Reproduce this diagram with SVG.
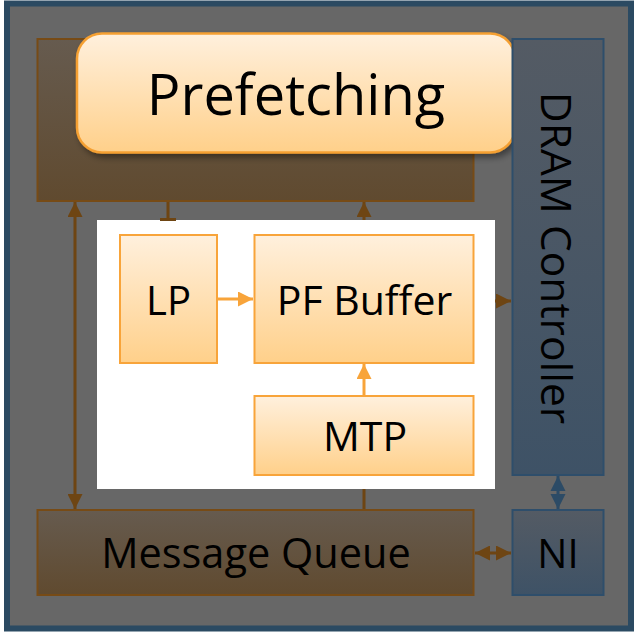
<svg xmlns="http://www.w3.org/2000/svg" width="637" height="632" viewBox="0 0 637 632">
  <defs>
    <linearGradient id="gOrange" x1="0" y1="0" x2="0" y2="1">
      <stop offset="0" stop-color="#fff0dd"/>
      <stop offset="1" stop-color="#ffd08a"/>
    </linearGradient>
    <linearGradient id="gBrown" x1="0" y1="0" x2="0" y2="1">
      <stop offset="0" stop-color="#665b4f"/>
      <stop offset="1" stop-color="#604a2f"/>
    </linearGradient>
    <linearGradient id="gBlue" x1="0" y1="0" x2="0" y2="1">
      <stop offset="0" stop-color="#545b64"/>
      <stop offset="1" stop-color="#3e5266"/>
    </linearGradient>
    <filter id="shadow" x="-10%" y="-10%" width="125%" height="135%">
      <feDropShadow dx="3" dy="4" stdDeviation="3" flood-color="#000" flood-opacity="0.4"/>
    </filter>
    <marker id="aBrown" viewBox="0 0 10 10" refX="10" refY="5" markerWidth="5" markerHeight="5" orient="auto-start-reverse" markerUnits="strokeWidth">
      <path d="M0,0 L10,5 L0,10 Z" fill="#6e4513"/>
    </marker>
    <marker id="aOrange" viewBox="0 0 10 10" refX="10" refY="5" markerWidth="5" markerHeight="5" orient="auto-start-reverse" markerUnits="strokeWidth">
      <path d="M0,0 L10,5 L0,10 Z" fill="#f8a43a"/>
    </marker>
    <marker id="aBlue" viewBox="0 0 10 10" refX="10" refY="5" markerWidth="5" markerHeight="5.3" orient="auto-start-reverse" markerUnits="strokeWidth">
      <path d="M0,0 L10,5 L0,10 Z" fill="#2c4b66"/>
    </marker>
  </defs>
  <style>
    text { font-family: "Open Sans", "Noto Sans", sans-serif; fill: #000; text-anchor: middle; }
    .brown { fill: url(#gBrown); stroke: #774b16; stroke-width: 2; }
    .blue { fill: url(#gBlue); stroke: #2e4e6b; stroke-width: 2; }
    .orange { fill: url(#gOrange); stroke: #f8a43a; stroke-width: 2; }
    .cb { stroke: #6e4513; stroke-width: 3; fill: none; }
    .co { stroke: #f8a43a; stroke-width: 3; fill: none; }
    .cl { stroke: #2c4b66; stroke-width: 3; fill: none; }
  </style>

  <!-- outer frame -->
  <rect x="7" y="3.5" width="624" height="625" fill="#676767" stroke="#2b4a62" stroke-width="6"/>

  <g id="prefetch-unit">
    <rect class="brown" x="37.5" y="39" width="436" height="162"/>
  </g>

  <g id="prefetching">
    <rect x="77" y="33.5" width="438" height="119" rx="25" ry="25" fill="url(#gOrange)" stroke="#f5a033" stroke-width="2.5" filter="url(#shadow)"/>
    <text x="296" y="115" font-size="56">Prefetching</text>
  </g>

  <g id="dram-controller">
    <rect class="blue" x="512.5" y="39" width="91" height="436"/>
    <text transform="translate(541 258) rotate(90)" font-size="42.5">DRAM Controller</text>
  </g>

  <g id="panel">
    <rect x="97" y="220" width="398" height="269" fill="#ffffff"/>
  </g>

  <g id="lp">
    <rect class="orange" x="120" y="235" width="97" height="128"/>
    <text x="168.5" y="315" font-size="40">LP</text>
  </g>

  <g id="pf-buffer">
    <rect class="orange" x="254.5" y="235" width="219" height="128"/>
    <text x="364.5" y="315" font-size="41">PF Buffer</text>
  </g>

  <g id="mtp">
    <rect class="orange" x="254.5" y="396" width="219" height="79"/>
    <text x="365" y="451" font-size="41">MTP</text>
  </g>

  <g id="message-queue">
    <rect class="brown" x="37.5" y="510" width="436" height="85"/>
    <text x="256" y="568" font-size="41.5">Message Queue</text>
  </g>

  <g id="ni">
    <rect class="blue" x="512.5" y="510" width="91" height="85"/>
    <text x="558" y="568" font-size="40">NI</text>
  </g>

  <g id="connectors">
    <!-- prefetch unit <-> message queue -->
    <line class="cb" x1="75" y1="202" x2="75" y2="509" marker-start="url(#aBrown)" marker-end="url(#aBrown)"/>
    <!-- prefetch unit -> panel -->
    <line class="cb" x1="168" y1="202" x2="168" y2="220"/>
    <line class="cb" x1="160" y1="219.5" x2="176" y2="219.5" stroke-width="2"/>
    <!-- panel -> prefetch unit -->
    <line class="cb" x1="364" y1="220" x2="364" y2="202" marker-end="url(#aBrown)"/>
    <!-- panel -> DRAM controller -->
    <line class="cb" x1="495" y1="301" x2="511" y2="301" marker-end="url(#aBrown)"/>
    <!-- message queue -> panel -->
    <line class="cb" x1="364" y1="509" x2="364" y2="489"/>
    <!-- message queue <-> NI -->
    <line class="cb" x1="475" y1="553" x2="511" y2="553" marker-start="url(#aBrown)" marker-end="url(#aBrown)"/>
    <!-- DRAM controller <-> NI -->
    <line class="cl" x1="558" y1="476" x2="558" y2="509" marker-start="url(#aBlue)" marker-end="url(#aBlue)"/>
    <!-- LP -> PF Buffer -->
    <line class="co" x1="217" y1="299" x2="253" y2="299" marker-end="url(#aOrange)"/>
    <!-- MTP -> PF Buffer -->
    <line class="co" x1="364" y1="396" x2="364" y2="364" marker-end="url(#aOrange)"/>
  </g>
</svg>
